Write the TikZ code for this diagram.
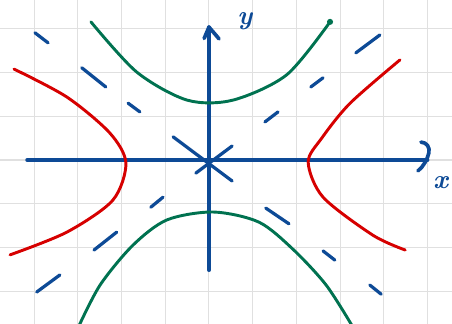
\documentclass[tikz,border=0pt]{standalone}
\usepackage{amsmath}
\usepackage{tikz}
\definecolor{axisblue}{RGB}{13,74,150}
\definecolor{hypred}{RGB}{214,0,0}
\definecolor{hypgreen}{RGB}{0,114,80}

\begin{document}
\begin{tikzpicture}[
  axis/.style={
    line width=2.4pt,
    axisblue,
    line cap=round,
    line join=round
  },
  curve/.style={line width=1.9pt, line cap=round},
  asym/.style={line width=2.1pt, axisblue, line cap=round},
  gridline/.style={black!12, line width=0.7pt},
  lab/.style={axisblue, font=\LARGE\bfseries\itshape, inner sep=0pt}
]

\useasboundingbox (-4.78,-3.75) rectangle (5.56,3.66);

% background grid
\draw[gridline] (-4.78,-3.75) grid (5.56,3.66);

% axes
\coordinate (O) at (0,0);
\coordinate (xs) at (-4.16,0);
\coordinate (xe) at (5.00,0);
\coordinate (ys) at (0,-2.52);
\coordinate (ye) at (0,3.04);

\draw[axis] (xs) -- (xe);
\draw[axis] (ys) -- (ye);

% hand-drawn arrow heads
\draw[axis] (4.85,0.41) .. controls (4.98,0.40) and (5.06,0.30) .. (5.03,0.16)
  .. controls (5.00,0.02) and (4.90,-0.16) .. (4.78,-0.25);
\draw[axis] (-0.11,2.78) -- (ye) -- (0.19,2.82) -- (0.23,2.77);

\node[lab] (xlab) at (5.30,-0.52) {x};
\node[lab] (ylab) at (0.82,3.17) {y};

% asymptotes
\foreach \p/\q in {
  {-3.98,2.91}/{-3.68,2.68},
  {-2.91,2.11}/{-2.36,1.67},
  {-1.85,1.30}/{-1.58,1.10},
  {-0.82,0.53}/{0.53,-0.48},
  {-0.30,-0.30}/{0.53,0.32},
  {1.28,0.87}/{1.58,1.10},
  {2.33,1.67}/{2.61,1.88},
  {3.36,2.45}/{3.91,2.86},
  {-1.33,-1.08}/{-1.05,-0.85},
  {-2.63,-2.06}/{-2.11,-1.65},
  {-3.94,-3.02}/{-3.41,-2.63},
  {1.30,-1.10}/{1.83,-1.46},
  {2.61,-2.08}/{2.88,-2.29},
  {3.68,-2.86}/{3.94,-3.07}}
  \draw[asym] (\p) -- (\q);

% red hyperbola
\draw[curve, hypred] plot[smooth] coordinates {
  (-4.46,2.08) (-3.25,1.44) (-2.27,0.62) (-1.90,-0.07)
  (-2.20,-0.92) (-3.25,-1.65) (-4.55,-2.17)};
\draw[curve, hypred] plot[smooth] coordinates {
  (4.37,2.29) (3.23,1.30) (2.58,0.50) (2.27,-0.05)
  (2.61,-0.85) (3.75,-1.72) (4.49,-2.06)};

% green hyperbola
\draw[curve, hypgreen] plot[smooth] coordinates {
  (-2.70,3.16) (-1.65,2.01) (-0.50,1.37) (0.55,1.37)
  (1.78,1.95) (2.77,3.16)};
\fill[hypgreen] (2.77,3.16) circle (0.07);
\draw[curve, hypgreen] plot[smooth] coordinates {
  (-3.00,-3.85) (-2.49,-2.86) (-1.74,-1.95) (-0.96,-1.37) (0.10,-1.19)
  (1.14,-1.42) (1.92,-2.04) (2.68,-2.86) (3.28,-3.80)};

\end{tikzpicture}
\end{document}
